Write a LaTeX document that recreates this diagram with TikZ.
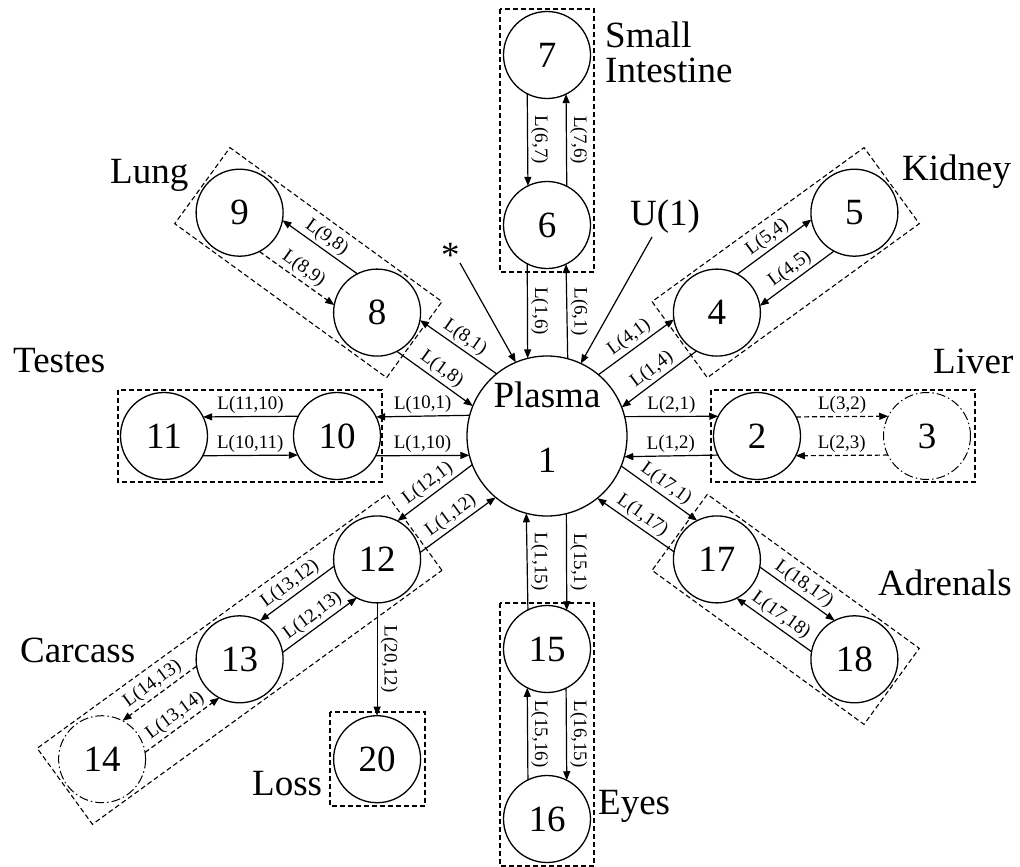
\documentclass[tikz,border=0pt]{standalone}
\usepackage{fontspec}
\setmainfont{Liberation Serif}
\usetikzlibrary{arrows.meta,calc}
\newcommand\bigtxt{\fontsize{37pt}{44pt}\selectfont}
\newcommand\twoline{\fontsize{37pt}{35pt}\selectfont}
\newcommand\labtxt{\fontsize{19pt}{22pt}\selectfont}
\begin{document}
\begin{tikzpicture}[x=1pt,y=-1pt,
  org/.style={circle, draw, line width=1.3pt, minimum size=87pt, inner sep=0pt, outer sep=0pt, font=\bigtxt},
  ghost/.style={org, line width=1pt, dash pattern=on 9pt off 3pt on 1.5pt off 3pt},
  flow/.style={line width=1.2pt, -{Triangle[length=9pt,width=7pt]}},
  dflow/.style={flow, dash pattern=on 5pt off 3pt},
  lab/.style={font=\labtxt, sloped, above, inner sep=2.5pt},
  vlab/.style={font=\labtxt, rotate=-90, anchor=south, inner sep=3pt},
  box/.style={draw, line width=1.1pt, dash pattern=on 5pt off 3pt},
  organ/.style={font=\bigtxt, inner sep=0pt}]

\path[use as bounding box] (0,0) rectangle (1020,867);

% compartments
\node[org, minimum size=160pt, align=center] (P) at (547,436)
  {Plasma\\[21pt]1\rule[-18pt]{0pt}{0pt}};
\node[org] (n6) at (547,225) {6};
\node[org] (n7) at (547,55) {7};
\node[org] (n2) at (757,436) {2};
\node[ghost] (n3) at (927,436) {3};
\node[org] (n10) at (337,436) {10};
\node[org] (n11) at (164,436) {11};
\node[org] (n15) at (547,649) {15};
\node[org] (n16) at (547,819) {16};
\node[org] (n4) at (716.9,312.6) {4};
\node[org] (n5) at (854.4,212.7) {5};
\node[org] (n8) at (377.1,312.6) {8};
\node[org] (n9) at (239.6,212.7) {9};
\node[org] (n17) at (716.9,559.4) {17};
\node[org] (n18) at (854.4,659.3) {18};
\node[org] (n12) at (377.1,559.4) {12};
\node[org] (n13) at (239.6,659.3) {13};
\node[ghost] (n14) at (102.1,759.2) {14};
\node[org] (n20) at (377.1,759.2) {20};

% organ boxes
\draw[box] (500,9) rectangle (594,272);
\draw[box] (500,603) rectangle (594,866);
\draw[box] (118,390) rectangle (382,482);
\draw[box] (711,390) rectangle (975,482);
\draw[box] (330,712) rectangle (425,806);
\begin{scope}[shift={(n4)},rotate=36]
  \draw[box] (-46,-47) rectangle (216,47);
\end{scope}
\begin{scope}[shift={(n8)},rotate=144]
  \draw[box] (-46,-47) rectangle (216,47);
\end{scope}
\begin{scope}[shift={(n17)},rotate=-36]
  \draw[box] (-46,-47) rectangle (216,47);
\end{scope}
\begin{scope}[shift={(n12)},rotate=216]
  \draw[box] (-46,-47) rectangle (386,47);
\end{scope}

% organ names
\node[organ, anchor=north west, align=left, font=\twoline] (tSI) at (605,21.5) {Small\\Intestine};
\node[organ, anchor=base west] (tLung) at (110,183) {Lung};
\node[organ, anchor=base west] (tKid) at (902,180) {Kidney};
\node[organ, anchor=base west] (tTes) at (13,372) {Testes};
\node[organ, anchor=base west] (tLiv) at (933,373) {Liver};
\node[organ, anchor=base west] (tAdr) at (878,595) {Adrenals};
\node[organ, anchor=base west] (tCar) at (20,662) {Carcass};
\node[organ, anchor=base west] (tLoss) at (252,795) {Loss};
\node[organ, anchor=base west] (tEyes) at (598,814) {Eyes};
\node[organ, anchor=base west] (tU) at (630,225) {U(1)};
\node[organ, anchor=base west] (tStar) at (441,267) {*};

% inputs to plasma
\coordinate (s0) at (460,263);
\coordinate (u0) at (652,237);
\draw[flow] (s0) -- (P.113);
\draw[flow] (u0) -- (P.65);

% small intestine
\draw[flow] (P.75.89) -- node[vlab]{L(6,1)} (n6.296.63);
\draw[flow] (n6.243.37) -- node[vlab]{L(1,6)} (P.104.11);
\draw[flow] (n6.63.37) -- node[vlab]{L(7,6)} (n7.296.63);
\draw[flow] (n7.243.37) -- node[vlab]{L(6,7)} (n6.116.63);

% eyes
\draw[flow] (P.284.11) -- node[vlab]{L(15,1)} (n15.63.37);
\draw[flow] (n15.116.63) -- node[vlab]{L(1,15)} (P.255.89);
\draw[flow] (n15.296.63) -- node[vlab]{L(16,15)} (n16.63.37);
\draw[flow] (n16.116.63) -- node[vlab]{L(15,16)} (n15.243.37);

% liver
\draw[flow] (P.14.11) -- node[lab]{L(2,1)} (n2.153.37);
\draw[flow] (n2.206.63) -- node[lab]{L(1,2)} (P.345.89);
\draw[dflow] (n2.26.63) -- node[lab]{L(3,2)} (n3.153.37);
\draw[dflow] (n3.206.63) -- node[lab]{L(2,3)} (n2.333.37);

% testes
\draw[flow] (P.165.89) -- node[lab]{L(10,1)} (n10.26.63);
\draw[flow] (n10.333.37) -- node[lab]{L(1,10)} (P.194.11);
\draw[flow] (n10.153.37) -- node[lab]{L(11,10)} (n11.26.63);
\draw[flow] (n11.333.37) -- node[lab]{L(10,11)} (n10.206.63);

% kidney
\draw[flow] (P.50.11) -- node[lab]{L(4,1)} (n4.189.37);
\draw[flow] (n4.242.63) -- node[lab]{L(1,4)} (P.21.89);
\draw[flow] (n4.62.63) -- node[lab]{L(5,4)} (n5.189.37);
\draw[flow] (n5.242.63) -- node[lab]{L(4,5)} (n4.9.37);

% lung
\draw[flow] (P.129.89) -- node[lab]{L(8,1)} (n8.350.63);
\draw[flow] (n8.297.37) -- node[lab]{L(1,8)} (P.158.11);
\draw[flow] (n8.117.37) -- node[lab]{L(9,8)} (n9.350.63);
\draw[dflow] (n9.297.37) -- node[lab]{L(8,9)} (n8.170.63);

% adrenals
\draw[flow] (P.338.11) -- node[lab]{L(17,1)} (n17.117.37);
\draw[flow] (n17.170.63) -- node[lab]{L(1,17)} (P.309.89);
\draw[flow] (n17.350.63) -- node[lab]{L(18,17)} (n18.117.37);
\draw[flow] (n18.170.63) -- node[lab]{L(17,18)} (n17.297.37);

% carcass
\draw[flow] (P.201.89) -- node[lab]{L(12,1)} (n12.62.63);
\draw[flow] (n12.9.37) -- node[lab]{L(1,12)} (P.230.11);
\draw[flow] (n12.189.37) -- node[lab]{L(13,12)} (n13.62.63);
\draw[flow] (n13.9.37) -- node[lab]{L(12,13)} (n12.242.63);
\draw[dflow] (n13.189.37) -- node[lab]{L(14,13)} (n14.62.63);
\draw[dflow] (n14.9.37) -- node[lab]{L(13,14)} (n13.242.63);

% loss
\draw[flow] (n12) -- node[vlab]{L(20,12)} (n20);
\end{tikzpicture}
\end{document}
